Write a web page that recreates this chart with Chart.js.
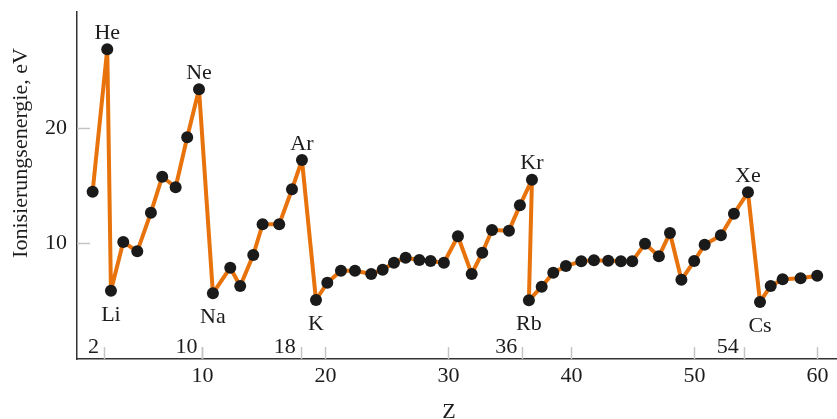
<!DOCTYPE html>
<html>
<head>
<meta charset="utf-8">
<script src="https://cdn.jsdelivr.net/npm/chart.js@4.4.1/dist/chart.umd.min.js"></script>
<style>
  html, body { margin: 0; padding: 0; background: #ffffff; }
  #wrap { width: 837px; height: 419px; position: relative; }
</style>
</head>
<body>
<div id="wrap"><canvas id="c" width="837" height="419"></canvas></div>
<script>
// Atomic number positions and first ionisation energies (eV)
const zValues = [
  1.07, 2.26, 2.56, 3.56, 4.70, 5.81, 6.73, 7.82, 8.76, 9.72,
  10.85, 12.26, 13.07, 14.13, 14.89, 16.24, 17.28, 18.09, 19.23, 20.15,
  21.26, 22.40, 23.72, 24.65, 25.57, 26.52, 27.63, 28.55, 29.63, 30.77,
  31.89, 32.75, 33.54, 34.92, 35.81, 36.79, 36.54, 37.58, 38.52, 39.55,
  40.80, 41.83, 42.99, 44.02, 44.94, 45.98, 47.11, 48.01, 48.94, 49.98,
  50.83, 52.15, 53.21, 54.35, 55.33, 56.20, 57.17, 58.63, 59.98
];
const ieValues = [
  14.49, 26.87, 5.88, 10.11, 9.30, 12.66, 15.79, 14.87, 19.22, 23.39,
  5.65, 7.88, 6.29, 8.98, 11.65, 11.65, 14.70, 17.24, 5.07, 6.57,
  7.62, 7.62, 7.33, 7.70, 8.31, 8.75, 8.55, 8.46, 8.31, 10.61,
  7.33, 9.18, 11.16, 11.10, 13.30, 15.53, 5.04, 6.23, 7.44, 8.03,
  8.43, 8.52, 8.49, 8.43, 8.43, 9.97, 8.87, 10.90, 6.83, 8.46,
  9.88, 10.70, 12.57, 14.43, 4.90, 6.29, 6.87, 6.96, 7.18
];
// Labels: noble gases (above peaks) and alkali metals (below dips); index into the arrays
const peakNames = ['He', 'Ne', 'Ar', 'Kr', 'Xe'];
const peakIndex = [1, 9, 17, 35, 53];
const dipNames = ['Li', 'Na', 'K', 'Rb', 'Cs'];
const dipIndex = [2, 10, 18, 36, 54];
// Marked atomic numbers of the noble gases and axis ticks
const nobleTicks = [2, 10, 18, 36, 54];
const xTickValues = [10, 20, 30, 40, 50, 60];
const yTickValues = [10, 20];
const xTitle = 'Z';
const yTitle = 'Ionisierungsenergie, eV';

const FONT = "'Liberation Serif', 'DejaVu Serif', serif";
const FSIZE = 22;
const TEXT = '#1c1c1c';
const TICKGRAY = '#c4c4c4';

const points = zValues.map((z, i) => ({ x: z, y: ieValues[i] }));

function zeroPad(scale) {
  scale.paddingTop = 0; scale.paddingBottom = 0;
  scale.paddingLeft = 0; scale.paddingRight = 0;
}

const decor = {
  id: 'decor',
  afterDatasetsDraw(chart) {
    const ctx = chart.ctx;
    const xs = chart.scales.x, ys = chart.scales.y;
    const area = chart.chartArea;
    ctx.save();
    // inner tick marks
    ctx.strokeStyle = TICKGRAY;
    ctx.lineWidth = 1.5;
    const allX = xTickValues.concat(nobleTicks);
    allX.forEach(v => {
      const px = Math.round(xs.getPixelForValue(v)) + 0.5;
      ctx.beginPath();
      ctx.moveTo(px, area.bottom);
      ctx.lineTo(px, area.bottom - 12);
      ctx.stroke();
    });
    yTickValues.forEach(v => {
      const py = Math.round(ys.getPixelForValue(v)) + 0.5;
      ctx.beginPath();
      ctx.moveTo(area.left, py);
      ctx.lineTo(area.left + 13, py);
      ctx.stroke();
    });
    ctx.fillStyle = TEXT;
    ctx.font = FSIZE + 'px ' + FONT;
    // noble gas Z numbers
    ctx.textAlign = 'right';
    ctx.textBaseline = 'alphabetic';
    nobleTicks.forEach(v => {
      const px = xs.getPixelForValue(v);
      ctx.fillText(String(v), px - 5, area.bottom - 6);
    });
    // element labels
    ctx.textAlign = 'center';
    peakNames.forEach((n, k) => {
      const i = peakIndex[k];
      ctx.fillText(n, xs.getPixelForValue(zValues[i]), ys.getPixelForValue(ieValues[i]) - 10.5);
    });
    dipNames.forEach((n, k) => {
      const i = dipIndex[k];
      ctx.fillText(n, xs.getPixelForValue(zValues[i]), ys.getPixelForValue(ieValues[i]) + 30);
    });
    // axis titles
    ctx.fillText(xTitle, 449, 418);
    ctx.save();
    ctx.translate(27, 153);
    ctx.rotate(-Math.PI / 2);
    ctx.fillText(yTitle, 0, 0);
    ctx.restore();
    ctx.restore();
  }
};

new Chart(document.getElementById('c'), {
  type: 'scatter',
  data: {
    datasets: [{
      data: points,
      showLine: true,
      borderColor: '#E8730C',
      borderWidth: 4,
      borderJoinStyle: 'round',
      borderCapStyle: 'round',
      tension: 0,
      pointRadius: 6,
      pointHoverRadius: 6,
      pointBackgroundColor: '#1a1a1a',
      pointBorderColor: '#1a1a1a',
      pointBorderWidth: 0,
      clip: false
    }]
  },
  options: {
    responsive: false,
    animation: false,
    events: [],
    layout: { autoPadding: false, padding: { top: 12, right: 0, bottom: 0, left: 0 } },
    plugins: { legend: { display: false }, tooltip: { enabled: false } },
    scales: {
      x: {
        type: 'linear',
        min: -0.2,
        max: 61.59,
        afterBuildTicks(scale) { scale.ticks = xTickValues.map(v => ({ value: v })); },
        afterFit(scale) { scale.height = 60; zeroPad(scale); },
        grid: { display: false, drawTicks: false, tickLength: 0 },
        border: { display: true, color: '#333333', width: 1.5 },
        ticks: {
          font: { family: FONT, size: FSIZE },
          color: TEXT,
          padding: 4,
          maxRotation: 0,
          autoSkip: false
        }
      },
      y: {
        type: 'linear',
        min: -0.06,
        max: 30.11,
        afterBuildTicks(scale) { scale.ticks = yTickValues.map(v => ({ value: v })); },
        afterFit(scale) { scale.width = 77; zeroPad(scale); },
        grid: { display: false, drawTicks: false, tickLength: 0 },
        border: { display: true, color: '#333333', width: 1.5 },
        ticks: {
          font: { family: FONT, size: FSIZE },
          color: TEXT,
          padding: 10,
          autoSkip: false
        }
      }
    }
  },
  plugins: [decor]
});
</script>
</body>
</html>
